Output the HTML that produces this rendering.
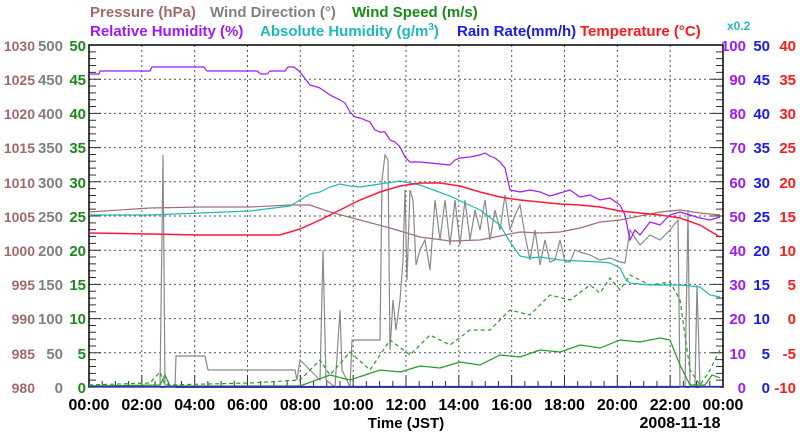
<!DOCTYPE html><html><head><style>body{margin:0;background:#fff}svg{display:block}text{font-family:"Liberation Sans",sans-serif;font-weight:bold}</style></head><body>
<svg width="800" height="434" xmlns="http://www.w3.org/2000/svg">
<g font-size="15">
<text x="90" y="17" fill="#a06a6a">Pressure (hPa)</text>
<text x="210" y="17" fill="#808080">Wind Direction (°)</text>
<text x="352" y="17" fill="#1a8a1a">Wind Speed (m/s)</text>
<text x="90" y="36" fill="#9b1aff">Relative Humidity (%)</text>
<text x="260" y="36" fill="#20b8b8">Absolute Humidity (g/m<tspan font-size="10" dy="-6">3</tspan><tspan dy="6">)</tspan></text>
<text x="457" y="36" fill="#1a1aee">Rain Rate(mm/h)</text>
<text x="580" y="36" fill="#ff1a1a">Temperature (°C)</text>
</g>
<text x="727" y="30" font-size="12" fill="#20b8b8">x0.2</text>
<g id="grid" stroke="#555" stroke-dasharray="2,3" stroke-width="1">
<path d="M141.8 45V387M194.7 45V387M247.5 45V387M300.3 45V387M353.2 45V387M406 45V387M458.8 45V387M511.7 45V387M564.5 45V387M617.3 45V387M670.2 45V387"/>
<path d="M89 79.2H723M89 113.4H723M89 147.6H723M89 181.8H723M89 216H723M89 250.2H723M89 284.4H723M89 318.6H723M89 352.8H723"/>
</g>
<g stroke="#333" stroke-width="1" id="ticks"></g>
<rect x="89" y="45" width="634" height="342" fill="none" stroke="#000" stroke-width="1.5"/>
<g fill="none" stroke-width="1.2">
<polyline stroke="#a07070" points="89,212 150,208 200,207 250,207 290,205 310,205 330,212 360,220 390,228 420,237 450,241 480,240 500,236 520,232 540,233 560,232 580,228 600,222 620,220 640,216 660,212 680,210 700,213 720,215"/>
<polyline stroke="#8a8a8a" points="89,387 160,387 163,155 165,387 175,387 176,356 205,356 208,370 295,370 297,380 300,360 310,370 320,380 323,250 326,380 335,387 340,310 342,370 350,387 352,340 380,340 382,180 385,155 388,160 390,350 393,300 396,330 400,300 403,260 405,190 407,280 410,190 413,200 416,265 420,250 425,240 430,270 435,200 440,240 445,200 450,245 455,200 460,245 465,200 470,240 475,210 480,230 485,200 490,240 495,210 500,230 505,195 510,230 515,215 520,205 525,235 530,260 535,230 540,265 545,240 550,262 555,260 560,240 565,262 570,262 575,250 580,252 590,255 600,260 610,258 620,262 625,263 630,230 640,245 650,235 660,240 670,230 678,220 680,387 685,387 688,210 690,387 695,387 697,285 700,387 720,387"/>
<polyline stroke="#2a9a2a" stroke-dasharray="4,3" points="89,385 150,383 160,372 165,385 250,383 300,380 320,360 330,375 350,352 370,370 390,340 410,355 430,335 450,345 470,330 490,330 510,310 530,315 550,295 570,300 590,285 600,293 610,278 620,290 630,275 650,285 670,282 680,300 690,370 700,385 710,370 720,350"/>
<polyline stroke="#2a9a2a" points="89,386 160,385 165,375 170,386 300,386 330,375 350,380 380,370 400,372 420,366 440,368 460,362 480,365 500,355 520,357 540,350 560,352 580,345 600,348 620,340 640,342 660,338 670,340 680,365 690,385 705,385 712,375 720,378"/>
<polyline stroke="#20b8b8" points="89,215 150,215 200,213 250,211 290,206 300,200 310,194 320,192 330,187 340,184 350,186 360,187 380,184 400,181 420,185 450,196 480,210 500,225 510,242 520,256 530,258 540,257 560,260 580,261 600,262 610,263 620,268 625,278 630,283 650,285 680,285 700,287 710,295 720,297"/>
<polyline stroke="#9b1aff" points="89,74 99,74 100,71 150,71 152,67 204,67 207,71 257,71 261,74 267,74 270,71 285,71 288,67 294,67 300,72 310,85 317,87 320,88 330,95 340,100 345,103 350,112 355,117 360,118 370,122 375,130 380,132 385,132 390,140 395,142 400,147 405,157 410,162 420,162 430,163 440,164 450,165 455,160 460,158 470,157 480,155 485,153 490,156 495,158 500,162 505,168 510,190 520,192 530,190 540,192 550,196 560,193 570,190 580,197 590,195 600,200 610,198 620,205 625,215 630,240 635,230 640,235 650,222 660,225 670,215 680,212 690,215 700,218 710,220 720,217"/>
<polyline stroke="#ff1a3a" stroke-width="1.5" points="89,233 150,234 200,235 280,235 300,229 320,220 340,210 360,200 380,192 400,186 420,183 440,183 460,186 480,192 500,197 520,200 540,202 560,204 580,205 600,207 620,211 640,213 660,215 680,218 700,225 720,237"/>
<line x1="89" y1="386.5" x2="723" y2="386.5" stroke="#2a2ae0"/>
</g>
<g font-size="15" text-anchor="end">
<g fill="#a06a6a" font-size="14"><text x="35" y="51">1030</text><text x="35" y="85">1025</text><text x="35" y="119">1020</text><text x="35" y="153">1015</text><text x="35" y="188">1010</text><text x="35" y="222">1005</text><text x="35" y="256">1000</text><text x="35" y="290">995</text><text x="35" y="324">990</text><text x="35" y="359">985</text><text x="35" y="393">980</text></g>
<g fill="#808080"><text x="63" y="51">500</text><text x="63" y="85">450</text><text x="63" y="119">400</text><text x="63" y="153">350</text><text x="63" y="188">300</text><text x="63" y="222">250</text><text x="63" y="256">200</text><text x="63" y="290">150</text><text x="63" y="324">100</text><text x="63" y="359">50</text><text x="63" y="393">0</text></g>
<g fill="#1a8a1a"><text x="86" y="51">50</text><text x="86" y="85">45</text><text x="86" y="119">40</text><text x="86" y="153">35</text><text x="86" y="188">30</text><text x="86" y="222">25</text><text x="86" y="256">20</text><text x="86" y="290">15</text><text x="86" y="324">10</text><text x="86" y="359">5</text><text x="86" y="393">0</text></g>
<g fill="#9b1aff"><text x="746" y="51">100</text><text x="746" y="85">90</text><text x="746" y="119">80</text><text x="746" y="153">70</text><text x="746" y="188">60</text><text x="746" y="222">50</text><text x="746" y="256">40</text><text x="746" y="290">30</text><text x="746" y="324">20</text><text x="746" y="359">10</text><text x="746" y="393">0</text></g>
<g fill="#1a1aee"><text x="770" y="51">50</text><text x="770" y="85">45</text><text x="770" y="119">40</text><text x="770" y="153">35</text><text x="770" y="188">30</text><text x="770" y="222">25</text><text x="770" y="256">20</text><text x="770" y="290">15</text><text x="770" y="324">10</text><text x="770" y="359">5</text><text x="770" y="393">0</text></g>
<g fill="#ff1a1a"><text x="796" y="51">40</text><text x="796" y="85">35</text><text x="796" y="119">30</text><text x="796" y="153">25</text><text x="796" y="188">20</text><text x="796" y="222">15</text><text x="796" y="256">10</text><text x="796" y="290">5</text><text x="796" y="324">0</text><text x="796" y="359">-5</text><text x="796" y="393">-10</text></g>
</g>
<g font-size="16" text-anchor="middle" fill="#000">
<text x="89" y="410">00:00</text><text x="141.8" y="410">02:00</text><text x="194.7" y="410">04:00</text><text x="247.5" y="410">06:00</text><text x="300.3" y="410">08:00</text><text x="353.2" y="410">10:00</text><text x="406" y="410">12:00</text><text x="458.8" y="410">14:00</text><text x="511.7" y="410">16:00</text><text x="564.5" y="410">18:00</text><text x="617.3" y="410">20:00</text><text x="670.2" y="410">22:00</text><text x="723" y="410">00:00</text>
<text x="406" y="428" font-size="15">Time (JST)</text>
<text x="680" y="428">2008-11-18</text>
</g>
<script>
var g=document.getElementById('ticks'),s='';
for(var i=0;i<=50;i++){var y=45+i*6.84,l=i%5?7:12;s+='M89 '+y+'h'+l+'M723 '+y+'h-'+l;}
for(var j=0;j<=48;j++){var x=89+j*13.208,l=j%4?6:12;s+='M'+x+' 387v-'+l;}
var p=document.createElementNS('http://www.w3.org/2000/svg','path');p.setAttribute('d',s);g.appendChild(p);
</script>
</svg></body></html>
